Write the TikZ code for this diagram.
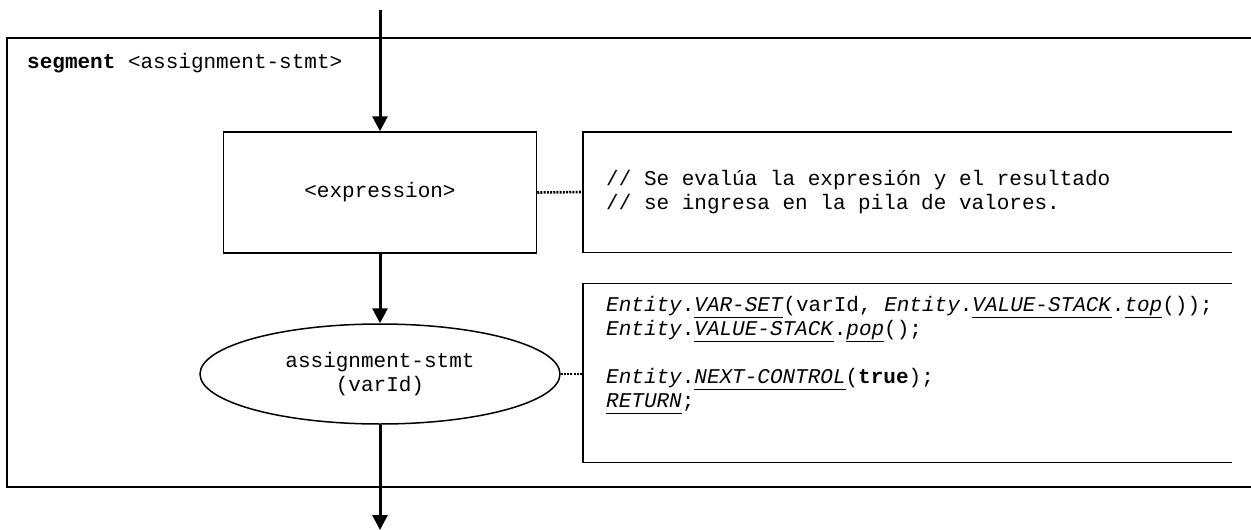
\documentclass[tikz,border=0pt]{standalone}
\usepackage{fontspec}
\setmainfont{Liberation Mono}
\usetikzlibrary{arrows.meta,shapes.geometric}
\newcommand{\op}[1]{\underline{\textit{#1}\vphantom{p}}}
\begin{document}
\begin{tikzpicture}[x=1pt,y=-1pt,font=\fontsize{21}{24}\selectfont,
  frame/.style={line width=1.4pt},
  flow/.style={line width=3pt,-{Triangle[length=15pt,width=15pt]}},
  dotline/.style={line width=2.6pt,dash pattern=on 2pt off 1.2pt},
  cbox/.style={anchor=west,minimum width=649pt},
  ctext/.style={inner sep=0,align=left}]
\useasboundingbox (0,0) rectangle (1251,530);
% outer segment frame
\draw[frame] (1251,38) -- (7,38) -- (7,487) -- (1251,487);
\node[anchor=west,inner sep=0] (seg) at (27,63) {\textbf{segment} <assignment-stmt>};
% flow
\coordinate (in) at (380,10);
\coordinate (out) at (380,530);
\node[draw,line width=1.5pt,minimum width=313pt,minimum height=121pt] (expr) at (380,192.5) {<expression>};
\node[draw,ellipse,line width=1.5pt,minimum width=360pt,minimum height=100pt,inner sep=0,align=center] (ell) at (380,374) {assignment-stmt\\(varId)};
\draw[flow] (in) -- (expr.north);
\draw[flow] (expr.south) -- (ell.north);
\draw[flow] (ell.south) -- (out);
% comments
\node[cbox,minimum height=120pt] (c1) at (583,192) {};
\draw[frame] (c1.north east) -- (c1.north west) -- (c1.south west) -- (c1.south east);
\node[ctext,anchor=west] (c1txt) at ([xshift=23pt]c1.west)
  {// Se evalúa la expresión y el resultado\\// se ingresa en la pila de valores.};
\node[cbox,minimum height=179pt] (c2) at (583,373) {};
\draw[frame] (c2.north east) -- (c2.north west) -- (c2.south west) -- (c2.south east);
\node[ctext,anchor=north west] (c2txt) at ([xshift=23pt,yshift=-13pt]c2.north west)
  {\textit{Entity}.\op{VAR-SET}(varId, \textit{Entity}.\op{VALUE-STACK}.\op{top}());\\
   \textit{Entity}.\op{VALUE-STACK}.\op{pop}();\\[24pt]
   \textit{Entity}.\op{NEXT-CONTROL}(\textbf{true});\\
   \op{RETURN};};
\draw[dotline] (expr.east) -- (c1.west);
\draw[dotline] (ell.east) -- (ell.east -| c2.west);
\end{tikzpicture}
\end{document}
